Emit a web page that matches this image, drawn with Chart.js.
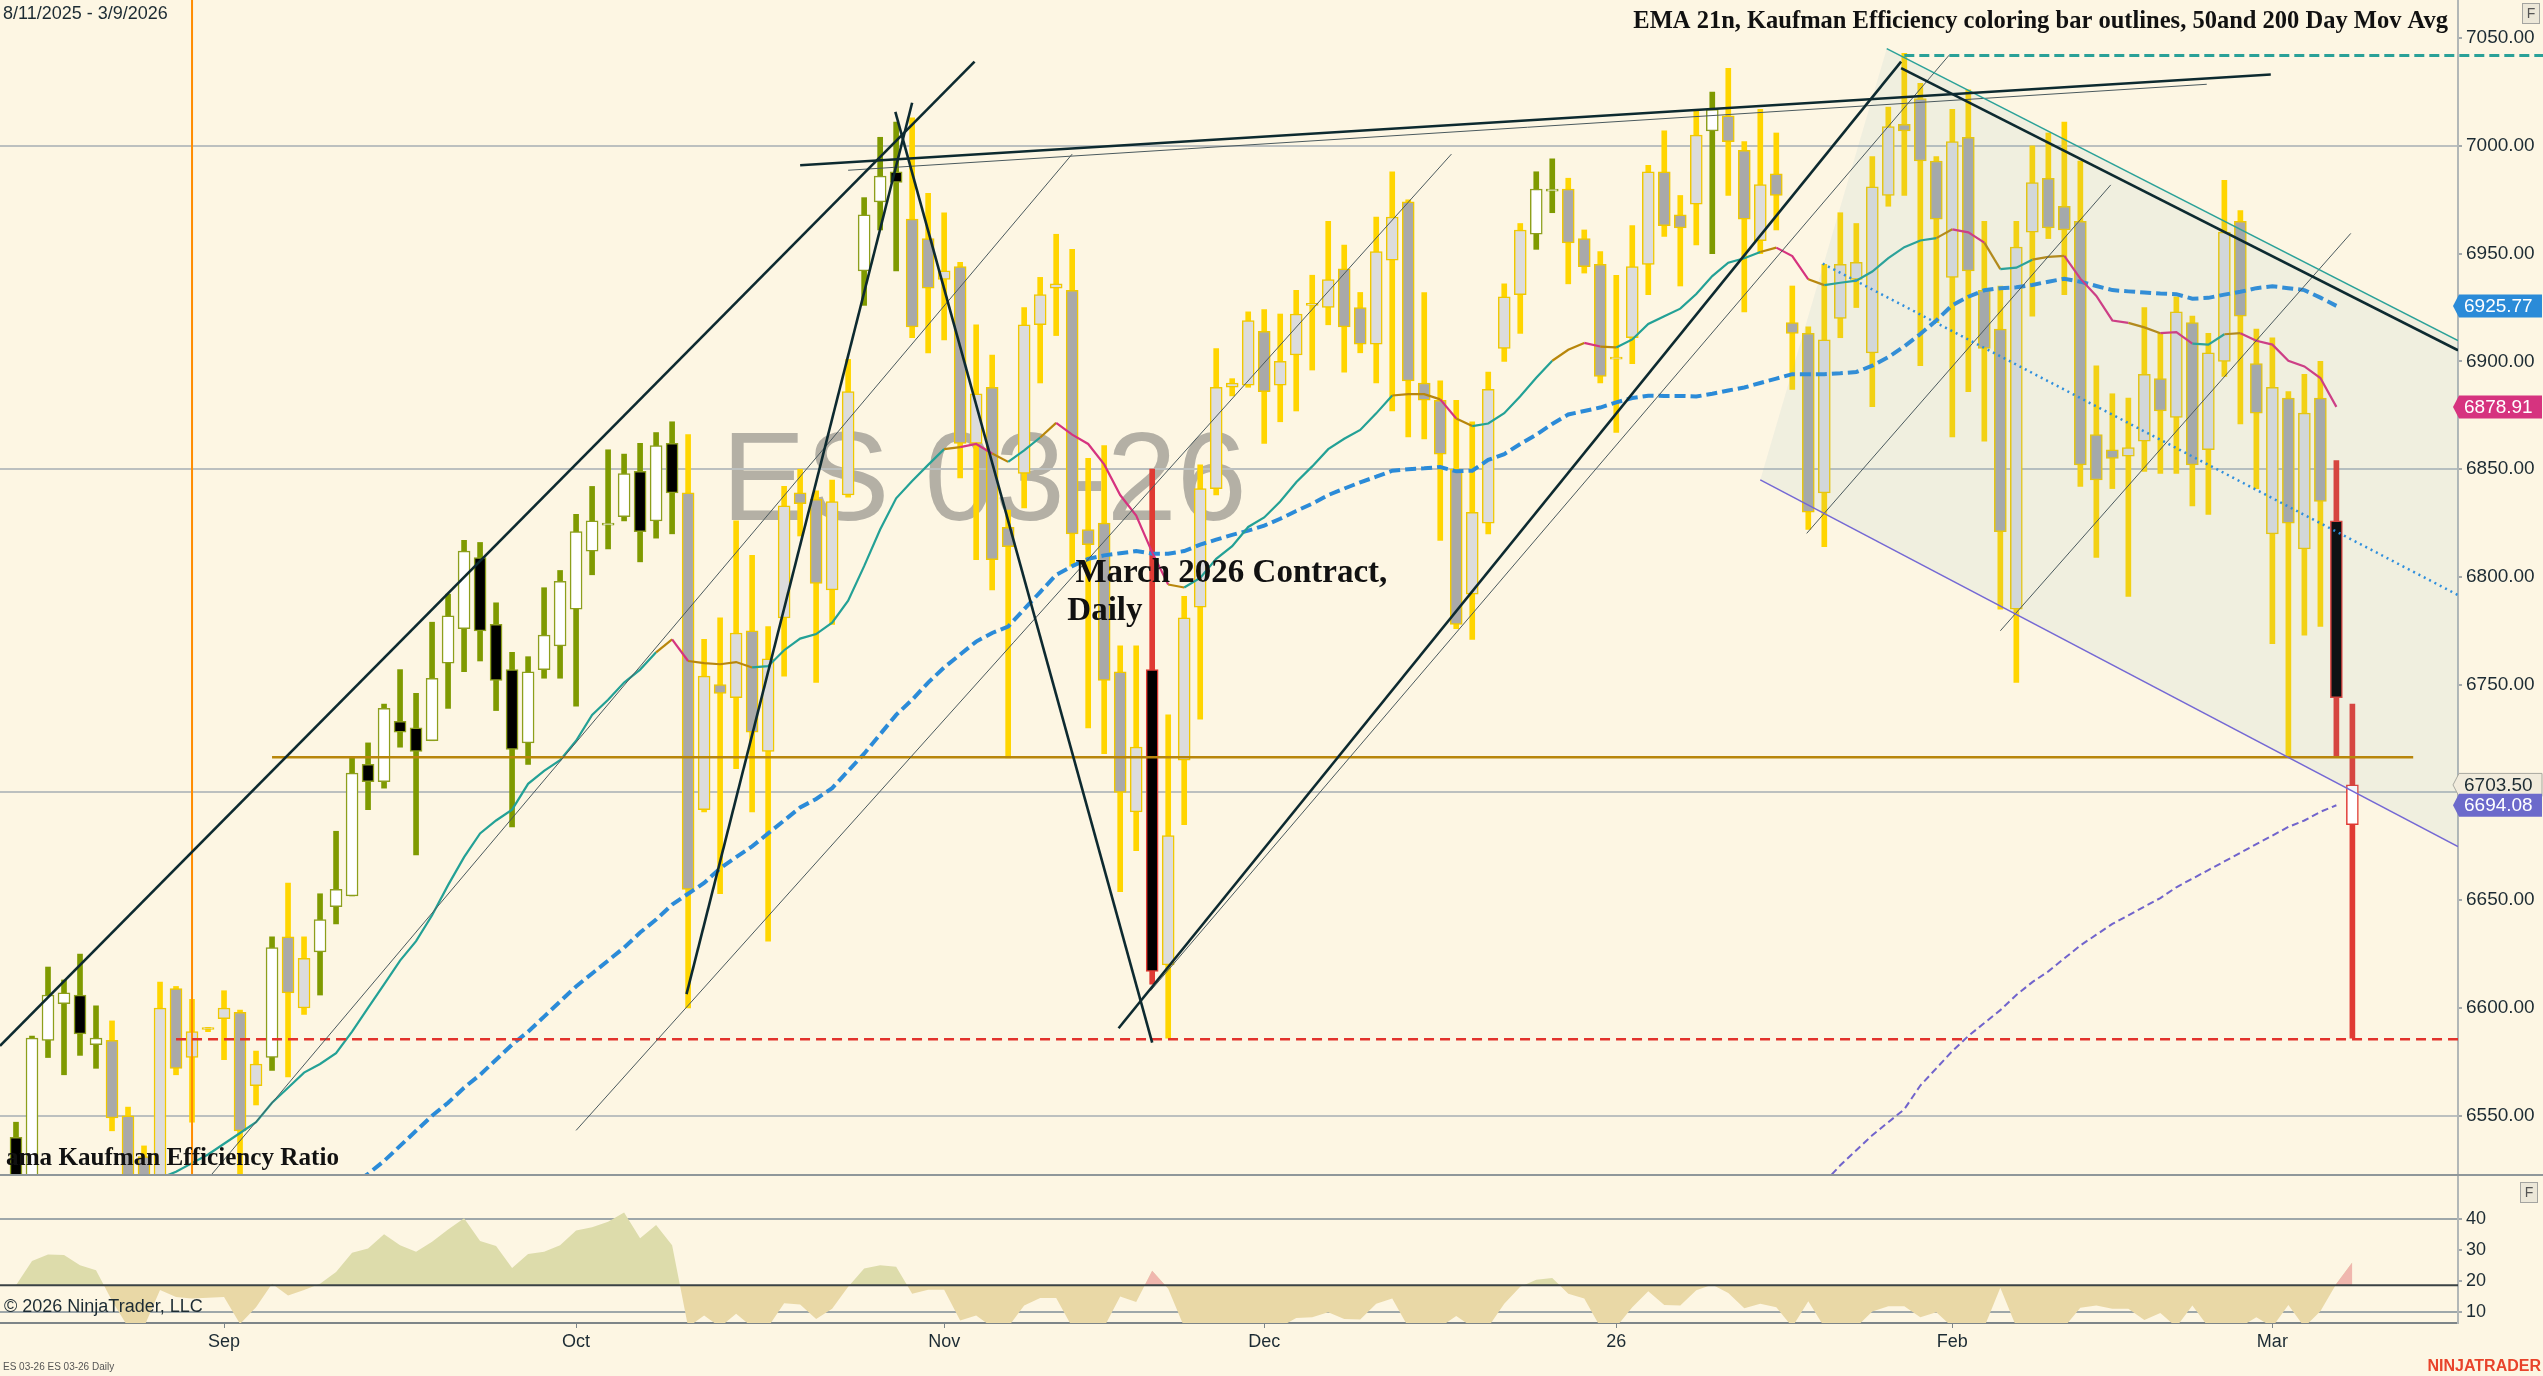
<!DOCTYPE html>
<html>
<head>
<meta charset="utf-8">
<title>ES 03-26 Daily</title>
<script src="https://cdn.jsdelivr.net/npm/chart.js@4.4.1/dist/chart.umd.min.js"></script>
<style>
  html, body { margin: 0; padding: 0; background: #fdf6e3; overflow: hidden; }
  #wrap { position: relative; width: 2543px; height: 1376px; }
</style>
</head>
<body>
<div id="wrap"><canvas id="chart"></canvas></div>
<script>
// --- bars (one per trading session, index 0 = first visible bar) ---
const opens = [
  6540, 6512, 6585, 6602, 6606, 6583, 6585, 6550, 6531, 6515,
  6609, 6577, 6590, 6595, 6598, 6564, 6577, 6633, 6600, 6626,
  6647, 6652, 6713, 6705, 6733, 6730, 6724, 6760, 6776, 6809,
  6778, 6757, 6723, 6757, 6768, 6785, 6812, 6824, 6828, 6849,
  6826, 6862, 6839, 6692, 6750, 6744, 6775, 6719, 6781, 6839,
  6836, 6794, 6838, 6942, 6974, 6988, 6966, 6957, 6938, 6944,
  6862, 6888, 6823, 6848, 6917, 6934, 6933, 6822, 6825, 6756,
  6691, 6757, 6620, 6715, 6786, 6841, 6888, 6889, 6914, 6889,
  6903, 6926, 6925, 6943, 6925, 6908, 6947, 6974, 6890, 6882,
  6850, 6792, 6825, 6906, 6931, 6959, 6979, 6980, 6957, 6945,
  6901, 6911, 6945, 6988, 6968, 6973, 7007, 7014, 6998, 6956,
  6987, 6918, 6913, 6839, 6920, 6938, 6904, 6977, 7010, 7022,
  6993, 6939, 7004, 6933, 6915, 6785, 6960, 6985, 6972, 6965,
  6866, 6859, 6856, 6863, 6892, 6874, 6918, 6859, 6900, 6965,
  6899, 6820, 6883, 6813, 6883, 6826, 6685
];
const highs = [
  6547, 6587, 6619, 6613, 6625, 6601, 6594, 6554, 6536, 6612,
  6610, 6604, 6591, 6608, 6599, 6580, 6633, 6658, 6633, 6653,
  6682, 6716, 6723, 6741, 6757, 6746, 6779, 6792, 6817, 6816,
  6788, 6765, 6763, 6795, 6803, 6829, 6842, 6859, 6857, 6862,
  6867, 6872, 6866, 6771, 6781, 6826, 6810, 6777, 6842, 6850,
  6840, 6845, 6901, 6976, 7004, 7011, 7013, 6978, 6969, 6946,
  6917, 6903, 6831, 6925, 6939, 6959, 6952, 6855, 6861, 6768,
  6768, 6850, 6736, 6791, 6852, 6906, 6892, 6923, 6924, 6922,
  6933, 6940, 6965, 6954, 6932, 6967, 6988, 6975, 6932, 6891,
  6882, 6872, 6895, 6936, 6964, 6988, 6994, 6985, 6961, 6951,
  6940, 6963, 6991, 7007, 6977, 7017, 7025, 7036, 7002, 7017,
  7006, 6935, 6916, 6945, 6969, 6964, 6995, 7018, 7043, 7029,
  6995, 7017, 7026, 6965, 6935, 6965, 7000, 7006, 7011, 6993,
  6898, 6885, 6883, 6925, 6913, 6930, 6921, 6913, 6984, 6970,
  6915, 6911, 6886, 6894, 6900, 6854, 6741
];
const lows = [
  6505, 6505, 6577, 6569, 6578, 6572, 6543, 6505, 6505, 6505,
  6569, 6547, 6589, 6576, 6510, 6555, 6571, 6568, 6597, 6606,
  6639, 6652, 6692, 6702, 6721, 6671, 6724, 6739, 6756, 6761,
  6738, 6684, 6713, 6753, 6753, 6740, 6801, 6813, 6826, 6807,
  6818, 6820, 6600, 6691, 6653, 6711, 6691, 6631, 6754, 6819,
  6751, 6778, 6837, 6926, 6961, 6942, 6911, 6904, 6910, 6846,
  6808, 6794, 6716, 6832, 6890, 6912, 6805, 6730, 6718, 6654,
  6673, 6611, 6586, 6685, 6734, 6838, 6884, 6888, 6862, 6872,
  6877, 6896, 6917, 6895, 6904, 6890, 6877, 6865, 6864, 6817,
  6776, 6771, 6820, 6900, 6913, 6952, 6969, 6936, 6941, 6890,
  6867, 6899, 6931, 6958, 6935, 6954, 6950, 6977, 6923, 6950,
  6961, 6887, 6822, 6814, 6911, 6925, 6879, 6972, 6977, 6898,
  6918, 6865, 6886, 6863, 6785, 6751, 6921, 6957, 6931, 6842,
  6809, 6841, 6791, 6849, 6848, 6848, 6833, 6829, 6893, 6871,
  6841, 6769, 6717, 6773, 6777, 6717, 6586
];
const closes = [
  6515, 6586, 6606, 6607, 6588, 6586, 6549, 6515, 6512, 6600,
  6572, 6589, 6590, 6600, 6543, 6574, 6628, 6607, 6623, 6641,
  6655, 6709, 6705, 6739, 6728, 6719, 6753, 6782, 6812, 6775,
  6752, 6720, 6756, 6773, 6798, 6821, 6826, 6825, 6848, 6821,
  6861, 6839, 6655, 6754, 6746, 6774, 6728, 6762, 6833, 6834,
  6797, 6835, 6886, 6968, 6986, 6983, 6916, 6934, 6942, 6862,
  6885, 6808, 6814, 6917, 6931, 6936, 6820, 6815, 6752, 6700,
  6721, 6617, 6680, 6781, 6841, 6888, 6890, 6919, 6886, 6900,
  6922, 6927, 6938, 6916, 6908, 6951, 6967, 6891, 6882, 6857,
  6778, 6830, 6887, 6930, 6961, 6980, 6980, 6955, 6944, 6893,
  6902, 6944, 6988, 6963, 6962, 7005, 7017, 7002, 6966, 6982,
  6977, 6913, 6830, 6910, 6945, 6946, 6981, 7009, 7007, 6993,
  6966, 7002, 6942, 6906, 6821, 6953, 6983, 6962, 6961, 6852,
  6845, 6855, 6860, 6894, 6877, 6923, 6852, 6904, 6960, 6921,
  6876, 6888, 6825, 6876, 6835, 6744, 6703.5
];
// Kaufman efficiency colouring of the bars: olive = efficient, red = alert, rest yellow
const efficientBars = [[0, 5], [16, 16], [19, 41], [53, 55], [95, 96], [106, 106]];
const redBars = [[71, 71], [145, 146]];

// EMA 21 (last plotted on bar 145)
const ema21 = [
  6490, 6494, 6498, 6502, 6506, 6509, 6512, 6515, 6518, 6521,
  6524, 6528, 6532, 6537, 6542, 6547, 6556, 6563, 6570, 6574,
  6579, 6589, 6600, 6611, 6622, 6631, 6643, 6657, 6670, 6681,
  6687, 6692, 6704, 6710, 6715, 6724, 6736, 6743, 6751, 6757,
  6765, 6771, 6761, 6760, 6759.5, 6760.5, 6758, 6758.6, 6766, 6771.4,
  6773.5, 6778.8, 6789, 6805, 6822, 6836.5, 6844.5, 6852, 6859.3, 6860.2,
  6861.7, 6857.3, 6853.4, 6858.7, 6864.7, 6871.5, 6866, 6861.7, 6852.2, 6838,
  6828.5, 6811.4, 6796.5, 6795.1, 6799.5, 6808.4, 6814.3, 6823.2, 6827.6, 6835,
  6843.9, 6851.3, 6859.3, 6864.1, 6868.2, 6875.9, 6884.2, 6884.8, 6884.8, 6882.4,
  6873.5, 6870, 6871.2, 6876, 6883.8, 6892.4, 6900.3, 6905.4, 6908.6, 6906.9,
  6906.5, 6910.2, 6917.4, 6921, 6924.5, 6931.3, 6939.6, 6945.8, 6947.9, 6950.8,
  6952.8, 6948.9, 6938.1, 6935.4, 6936.5, 6937.5, 6941.7, 6947.9, 6953, 6956.1,
  6957.2, 6961.3, 6959.9, 6955.1, 6942.8, 6943.5, 6947.2, 6948.5, 6949, 6938.4,
  6930.4, 6919, 6917.9, 6915.8, 6913.1, 6913.6, 6908.3, 6907.8, 6912.6, 6913.1,
  6909.6, 6907.8, 6900.3, 6897.7, 6892.3, 6878.91
];
const emaGold = [[41, 41], [43, 46], [59, 59], [62, 62], [65, 65], [73, 73], [87, 89], [91, 91],
  [97, 98], [100, 100], [110, 110], [113, 113], [121, 121], [124, 124], [127, 128], [133, 134], [139, 139]];
const emaPink = [[42, 42], [60, 61], [66, 72], [90, 90], [99, 99], [111, 112], [122, 123],
  [129, 132], [135, 136], [140, 146]];

// 50 day moving average, starting at bar 18
const sma50Start = 18;
const sma50 = [
  6506, 6510, 6514, 6518, 6523, 6529, 6536, 6543, 6550, 6556, 6563, 6569,
  6576, 6583, 6589, 6596, 6603, 6610, 6616, 6622, 6628, 6635,
  6641, 6648, 6653, 6658, 6664.8, 6670, 6675, 6681, 6687, 6693,
  6697, 6702, 6710, 6718, 6727, 6736, 6743, 6751, 6758, 6764,
  6770, 6774, 6777, 6785, 6793, 6801, 6805, 6808.4, 6810, 6811,
  6812, 6810.8, 6810.8, 6812, 6815, 6817.3, 6819.5, 6821.5, 6823.8, 6827,
  6830.6, 6834, 6838, 6841, 6843.9, 6846.5, 6849.3, 6850, 6850.4, 6851,
  6849, 6849.3, 6854.3, 6857, 6861.7, 6866, 6871, 6875.4, 6877, 6878.6,
  6881, 6883, 6884.1, 6884, 6884, 6883.7, 6885, 6886.5, 6887.9, 6890,
  6892, 6894.1, 6894.1, 6894.1, 6894.5, 6895.1, 6898, 6902, 6907, 6912.7,
  6919, 6926.1, 6930, 6933, 6934, 6934.4, 6935.5, 6937, 6938.4, 6937,
  6935, 6933.1, 6932.5, 6932, 6931.5, 6931.2, 6929.1, 6929.5, 6931, 6932.3,
  6934, 6934.9, 6934, 6933.1, 6929.6, 6925.77
];
// 200 day moving average, visible from bar 113
const sma200Start = 113;
const sma200 = [
  6519, 6527, 6534, 6541, 6547, 6553, 6564, 6572, 6580, 6587,
  6593, 6599, 6606, 6612, 6617, 6623, 6629, 6634, 6639, 6643,
  6647, 6651, 6656, 6660, 6664, 6668, 6672, 6676, 6680, 6684,
  6687, 6691, 6694.08
];

// Kaufman efficiency ratio (lower panel)
const effRatio = [
  18.5, 26.4, 28.5, 28.3, 25, 23.4, 13.5, 5, 5, 17,
  14.7, 14.2, 14.5, 14.7, 6, 11.4, 19, 15.2, 17, 19,
  22.8, 29, 30.4, 35, 31.5, 29.4, 32.6, 36.6, 40.2, 32.8,
  31.2, 24.1, 28.6, 29.4, 31.5, 36.2, 37.3, 39.1, 42.1, 33.7,
  38, 31.5, 5, 8.7, 5, 9.3, 5, 5, 12.7, 12.3,
  7.6, 10.9, 18, 23.9, 25, 24.5, 15.8, 17.1, 17.1, 7.1,
  8.7, 5, 5, 12, 14.4, 14.4, 5, 5, 5, 14.9,
  13.1, 23.2, 17.4, 5, 5, 5, 5, 5, 5, 5,
  7.9, 8.2, 9.8, 7.6, 7.4, 12.5, 14.2, 5, 5, 5,
  8.6, 5, 5, 12.5, 18, 20.3, 20.9, 15.8, 14.2, 5,
  5, 11.4, 16.6, 12.1, 12, 16.9, 18.7, 16, 11.1, 12.5,
  11.4, 5, 13.3, 5, 5, 5, 10, 11.7, 11.7, 8.2,
  9.8, 5, 5, 5, 17.7, 5, 5, 5, 5, 11.2,
  12, 10.9, 10.9, 7.3, 9.5, 5, 12, 5, 5, 5,
  8.2, 5, 12.1, 5, 10.1, 19, 26
];
const effHot = [[70, 72], [144, 146]];
const effLevel = 18.5;

// axes
const priceTicks = [6550, 6600, 6650, 6700, 6750, 6800, 6850, 6900, 6950, 7000, 7050];
const priceGrid = [6550, 6700, 6850, 7000];
const effTicks = [10, 20, 30, 40];
const effGrid = [10, 40];
const monthTicks = [13, 35, 58, 78, 100, 121, 141];
const monthLabels = ['Sep', 'Oct', 'Nov', 'Dec', '26', 'Feb', 'Mar'];

// drawings, in [bar, price] space
const thickLines = [
  [-1, 6582.4, 59.9, 7039.1],
  [49, 6991, 140.9, 7033.1],
  [41.9, 6606.4, 56, 7020],
  [54.95, 7015.8, 71, 6583.9],
  [68.9, 6590.6, 117.8, 7039.1],
  [117.8, 7036.1, 152.6, 6905.2]
];
const thinLines = [
  [52, 6988.7, 136.9, 7028.6],
  [70.9, 6608, 120.8, 7042.1],
  [11.9, 6519.9, 66, 6996.2],
  [35, 6543.2, 89.7, 6996.2],
  [111.9, 6820.2, 130.9, 6981.9],
  [124, 6775, 145.9, 6959.4]
];
const tealEdge = [116.9, 7045.1, 152.6, 6909.7];
const channelFloor = [109, 6845, 152.6, 6674.9];
const channelShade = [[109, 6845], [116.9, 7045.1], [152.6, 6909.7], [152.6, 6674.9]];
const dottedLine = [112.9, 6945.4, 152.6, 6791.6];
const goldLevel = [16, 149.8, 6716.3];
const redLevel = [10, 152.6, 6585.5];
const tealLevel = [118, 160, 7042];
const orangeBar = 11;

const SERIF = '"Liberation Serif", "DejaVu Serif", serif';
const SANS = '"Liberation Sans", Arial, sans-serif';
const INK = '#1c2b33';

function inRanges(i, ranges) {
  return ranges.some(([a, b]) => i >= a && i <= b);
}
function kindOf(i) {
  if (inRanges(i, redBars)) return 'r';
  if (inRanges(i, efficientBars)) return 'g';
  return 'y';
}
const wickTone = { g: '#7f9a00', y: '#ffd500', r: '#e03a33' };
const edgeTone = { g: '#8d9f1c', y: '#f0c800', r: '#e03a33' };
function bodyFill(i) {
  const up = closes[i] >= opens[i];
  const k = kindOf(i);
  if (k === 'y') return up ? '#dcdcdc' : '#a9a9a9';
  return up ? '#ffffff' : '#000000';
}
function emaTone(i) {
  if (inRanges(i, emaPink)) return '#d6337f';
  if (inRanges(i, emaGold)) return '#b8860b';
  return '#23a196';
}
// no automatic label padding: panes must fill the canvas edge to edge
function noPad(s) {
  s.paddingTop = 0; s.paddingBottom = 0; s.paddingLeft = 0; s.paddingRight = 0;
}

const idx = opens.map((_, i) => i);

function segPath(ctx, xs, ys, seg) {
  ctx.beginPath();
  ctx.moveTo(xs.getPixelForValue(seg[0]), ys.getPixelForValue(seg[1]));
  ctx.lineTo(xs.getPixelForValue(seg[2]), ys.getPixelForValue(seg[3]));
  ctx.stroke();
}
function fitFont(ctx, text, weight, family, width) {
  ctx.font = weight + ' 20px ' + family;
  const w = ctx.measureText(text).width;
  return weight + ' ' + (20 * width / w).toFixed(2) + 'px ' + family;
}
function priceTag(ctx, axis, right, y, text, fill, ink, edge) {
  const left = axis.left, h = 23;
  ctx.beginPath();
  ctx.moveTo(left - 5, y);
  ctx.lineTo(left + 1, y - h / 2);
  ctx.lineTo(right, y - h / 2);
  ctx.lineTo(right, y + h / 2);
  ctx.lineTo(left + 1, y + h / 2);
  ctx.closePath();
  ctx.fillStyle = fill;
  ctx.fill();
  if (edge) { ctx.strokeStyle = edge; ctx.lineWidth = 1; ctx.stroke(); }
  ctx.fillStyle = ink;
  ctx.font = '19px ' + SANS;
  ctx.textAlign = 'left';
  ctx.textBaseline = 'middle';
  ctx.fillText(text, left + 6, y + 1);
}
function fBox(ctx, x, y) {
  ctx.fillStyle = '#ece7d8';
  ctx.strokeStyle = '#a4a4a0';
  ctx.lineWidth = 1;
  ctx.fillRect(x, y, 17, 20);
  ctx.strokeRect(x + 0.5, y + 0.5, 17, 20);
  ctx.fillStyle = '#555';
  ctx.font = '14px ' + SANS;
  ctx.textAlign = 'center';
  ctx.textBaseline = 'middle';
  ctx.fillText('F', x + 9, y + 11);
}

const overlay = {
  id: 'overlay',
  beforeDraw(chart) {
    const { ctx } = chart;
    const xs = chart.scales.x, ys = chart.scales.y;
    ctx.save();
    ctx.fillStyle = '#fdf6e3';
    ctx.fillRect(0, 0, chart.width, chart.height);
    ctx.beginPath();
    ctx.rect(chart.chartArea.left, ys.top, chart.chartArea.width, ys.bottom - ys.top);
    ctx.clip();
    ctx.fillStyle = '#b4b0a5';
    ctx.font = '126px ' + SANS;
    ctx.textAlign = 'center';
    ctx.textBaseline = 'alphabetic';
    ctx.fillText('ES 03-26', xs.getPixelForValue(60.5), ys.getPixelForValue(6826.5));
    ctx.restore();
  },
  afterDatasetsDraw(chart) {
    const { ctx, chartArea } = chart;
    const xs = chart.scales.x, ys = chart.scales.y, ys2 = chart.scales.y2;
    ctx.save();
    ctx.beginPath();
    ctx.rect(chartArea.left, ys.top, chartArea.width, ys.bottom - ys.top);
    ctx.clip();

    // trend channel shading
    ctx.beginPath();
    channelShade.forEach(([b, p], k) => {
      const X = xs.getPixelForValue(b), Y = ys.getPixelForValue(p);
      if (k) ctx.lineTo(X, Y); else ctx.moveTo(X, Y);
    });
    ctx.closePath();
    ctx.fillStyle = 'rgba(130,175,200,0.10)';
    ctx.fill();

    // orange vertical marker
    ctx.strokeStyle = '#ff8c00';
    ctx.lineWidth = 2;
    ctx.beginPath();
    ctx.moveTo(xs.getPixelForValue(orangeBar), ys.top);
    ctx.lineTo(xs.getPixelForValue(orangeBar), ys.bottom);
    ctx.stroke();

    // horizontal levels
    ctx.strokeStyle = '#b8860b';
    ctx.lineWidth = 2.5;
    segPath(ctx, xs, ys, [goldLevel[0], goldLevel[2], goldLevel[1], goldLevel[2]]);
    ctx.strokeStyle = '#e2322c';
    ctx.setLineDash([10, 6]);
    segPath(ctx, xs, ys, [redLevel[0], redLevel[2], redLevel[1], redLevel[2]]);
    ctx.setLineDash([]);

    // thin channel lines
    ctx.strokeStyle = '#4b5a5e';
    ctx.lineWidth = 1;
    thinLines.forEach(s => segPath(ctx, xs, ys, s));
    ctx.strokeStyle = '#7468d4';
    ctx.lineWidth = 1.5;
    segPath(ctx, xs, ys, channelFloor);
    ctx.strokeStyle = '#2aa198';
    segPath(ctx, xs, ys, tealEdge);

    // dotted trend
    ctx.strokeStyle = '#2f8fdd';
    ctx.lineWidth = 2.5;
    ctx.setLineDash([2, 4]);
    segPath(ctx, xs, ys, dottedLine);
    ctx.setLineDash([]);

    // heavy trend lines
    ctx.strokeStyle = '#0d2a30';
    ctx.lineWidth = 2.6;
    thickLines.forEach(s => segPath(ctx, xs, ys, s));

    // indicator caption, partly lost on the first black body
    const label = 'ama Kaufman Efficiency Ratio';
    ctx.font = fitFont(ctx, label, 'bold', SERIF, 333);
    ctx.fillStyle = '#111';
    ctx.textAlign = 'left';
    ctx.textBaseline = 'alphabetic';
    ctx.fillText(label, xs.getPixelForValue(-0.62), ys.getPixelForValue(6527));
    ctx.restore();

    // teal dashed level runs across the price scale
    ctx.save();
    ctx.beginPath();
    ctx.rect(chartArea.left, ys.top, chart.width, ys.bottom - ys.top);
    ctx.clip();
    ctx.strokeStyle = '#2aa198';
    ctx.lineWidth = 3;
    ctx.setLineDash([10, 5]);
    segPath(ctx, xs, ys, [tealLevel[0], tealLevel[2], tealLevel[1], tealLevel[2]]);
    ctx.restore();

    ctx.save();
    // efficiency level line
    ctx.strokeStyle = '#3a4244';
    ctx.lineWidth = 2;
    const ly = ys2.getPixelForValue(effLevel);
    ctx.beginPath();
    ctx.moveTo(chartArea.left, ly);
    ctx.lineTo(chartArea.right, ly);
    ctx.stroke();
    // panel separator
    ctx.strokeStyle = '#8f979a';
    ctx.beginPath();
    ctx.moveTo(0, ys.bottom);
    ctx.lineTo(chart.width, ys.bottom);
    ctx.stroke();

    // notes
    ctx.fillStyle = '#111';
    ctx.textAlign = 'left';
    ctx.textBaseline = 'alphabetic';
    ctx.font = 'bold 33px ' + SERIF;
    ctx.fillText('March 2026 Contract,', xs.getPixelForValue(66.2), ys.getPixelForValue(6797.7));
    ctx.fillText('Daily', xs.getPixelForValue(65.7), ys.getPixelForValue(6779.8));

    const title = 'EMA 21n, Kaufman Efficiency coloring bar outlines, 50and 200 Day Mov Avg';
    ctx.font = fitFont(ctx, title, 'bold', SERIF, 815);
    ctx.textAlign = 'right';
    ctx.fillText(title, chartArea.right - 10, 28);
    ctx.restore();
  },
  afterDraw(chart) {
    const { ctx } = chart;
    const ys = chart.scales.y;
    const edge = chart.width - 1;
    ctx.save();
    priceTag(ctx, ys, edge, ys.getPixelForValue(sma50[sma50.length - 1]), sma50[sma50.length - 1].toFixed(2), '#2b8bd8', '#ffffff');
    priceTag(ctx, ys, edge, ys.getPixelForValue(ema21[ema21.length - 1]), ema21[ema21.length - 1].toFixed(2), '#d6337f', '#ffffff');
    priceTag(ctx, ys, edge, ys.getPixelForValue(closes[closes.length - 1]), closes[closes.length - 1].toFixed(2), '#f1ebdc', INK, '#a8a8a0');
    priceTag(ctx, ys, edge, ys.getPixelForValue(sma200[sma200.length - 1]), sma200[sma200.length - 1].toFixed(2), '#6c6acb', '#ffffff');

    fBox(ctx, chart.width - 21, 3);
    fBox(ctx, chart.width - 23, ys.bottom + 7);

    ctx.fillStyle = INK;
    ctx.textAlign = 'left';
    ctx.textBaseline = 'alphabetic';
    ctx.font = '18px ' + SANS;
    ctx.fillText('8/11/2025 - 3/9/2026', 3, 19);
    ctx.fillText('\u00A9 2026 NinjaTrader, LLC', 4, 1312);
    ctx.fillStyle = '#555';
    ctx.font = '10px ' + SANS;
    ctx.fillText('ES 03-26 ES 03-26 Daily', 3, 1370);
    ctx.fillStyle = '#e8432b';
    ctx.font = 'bold 16px ' + SANS;
    ctx.textAlign = 'right';
    ctx.fillText('NINJATRADER', chart.width - 2, 1371);
    ctx.restore();
  }
};

Chart.defaults.font.family = SANS;
Chart.defaults.color = INK;

new Chart(document.getElementById('chart'), {
  type: 'bar',
  data: {
    datasets: [
      {
        type: 'line', label: 'EMA 21', yAxisID: 'y',
        data: ema21.map((v, i) => ({ x: i, y: v })),
        borderWidth: 2.2, pointRadius: 0, borderColor: '#23a196',
        segment: { borderColor: c => emaTone(c.p1DataIndex) }
      },
      {
        type: 'line', label: '50 Day', yAxisID: 'y',
        data: sma50.map((v, i) => ({ x: sma50Start + i, y: v })),
        borderWidth: 4, borderDash: [11, 5], pointRadius: 0, borderColor: '#2b8bd8'
      },
      {
        type: 'line', label: '200 Day', yAxisID: 'y',
        data: sma200.map((v, i) => ({ x: sma200Start + i, y: v })),
        borderWidth: 2, borderDash: [7, 4], pointRadius: 0, borderColor: '#7164cc'
      },
      {
        type: 'bar', label: 'Body', yAxisID: 'y',
        data: idx.map(i => ({ x: i, y: [opens[i], closes[i]] })),
        barThickness: 12, grouped: false, minBarLength: 2,
        borderWidth: 1.5, borderSkipped: false,
        backgroundColor: idx.map(bodyFill),
        borderColor: idx.map(i => edgeTone[kindOf(i)])
      },
      {
        type: 'bar', label: 'Range', yAxisID: 'y',
        data: idx.map(i => ({ x: i, y: [lows[i], highs[i]] })),
        barThickness: 5, grouped: false, borderWidth: 0,
        backgroundColor: idx.map(i => wickTone[kindOf(i)])
      },
      {
        type: 'line', label: 'ER hot', yAxisID: 'y2',
        data: effRatio.map((v, i) => ({ x: i, y: inRanges(i, effHot) ? v : null })),
        borderWidth: 0, borderColor: 'rgba(0,0,0,0)', pointRadius: 0,
        fill: { target: { value: effLevel }, above: '#f0b7ae', below: 'rgba(0,0,0,0)' }
      },
      {
        type: 'line', label: 'Efficiency Ratio', yAxisID: 'y2',
        data: effRatio.map((v, i) => ({ x: i, y: v })),
        borderWidth: 0, borderColor: 'rgba(0,0,0,0)', pointRadius: 0,
        fill: { target: { value: effLevel }, above: '#dddcab', below: '#e9d8a6' }
      }
    ]
  },
  options: {
    responsive: true,
    maintainAspectRatio: false,
    animation: false,
    events: [],
    layout: { padding: 0, autoPadding: false },
    plugins: { legend: { display: false }, tooltip: { enabled: false } },
    scales: {
      x: {
        type: 'linear', position: 'bottom', min: -1, max: 152.6, offset: false,
        afterBuildTicks: s => { s.ticks = monthTicks.map(v => ({ value: v })); },
        afterFit: s => { s.height = 53; noPad(s); },
        ticks: {
          autoSkip: false, maxRotation: 0, padding: 3, color: INK, font: { size: 18 },
          callback: (v, i) => monthLabels[i]
        },
        grid: { offset: false, drawOnChartArea: false, drawTicks: true, tickLength: 5, color: '#7d8588' },
        border: { color: '#7d8588', width: 2 }
      },
      y: {
        type: 'linear', position: 'right', stack: 'panes', stackWeight: 1175,
        min: 6522.5, max: 7067.7,
        afterBuildTicks: s => { s.ticks = priceTicks.map(v => ({ value: v })); },
        afterFit: s => { s.width = 85; noPad(s); },
        ticks: { padding: 4, color: INK, font: { size: 19 }, callback: v => v.toFixed(2) },
        grid: {
          lineWidth: 2, tickLength: 4, tickColor: '#a3a9ab',
          color: c => (c.tick && priceGrid.includes(c.tick.value)) ? '#bcc0bf' : 'rgba(0,0,0,0)'
        },
        border: { color: '#b2b7b7', width: 2 }
      },
      y2: {
        type: 'linear', position: 'right', stack: 'panes', stackWeight: 148,
        min: 6.3, max: 54.2, z: 1,
        afterBuildTicks: s => { s.ticks = effTicks.map(v => ({ value: v })); },
        afterFit: s => { s.width = 85; noPad(s); },
        ticks: { padding: 4, color: INK, font: { size: 18 }, callback: v => String(v) },
        grid: {
          lineWidth: 2, tickLength: 4, tickColor: '#a3a9ab',
          color: c => (c.tick && effGrid.includes(c.tick.value)) ? '#9ea7a9' : 'rgba(0,0,0,0)'
        },
        border: { color: '#b2b7b7', width: 2 }
      }
    }
  },
  plugins: [overlay]
});
</script>
</body>
</html>
